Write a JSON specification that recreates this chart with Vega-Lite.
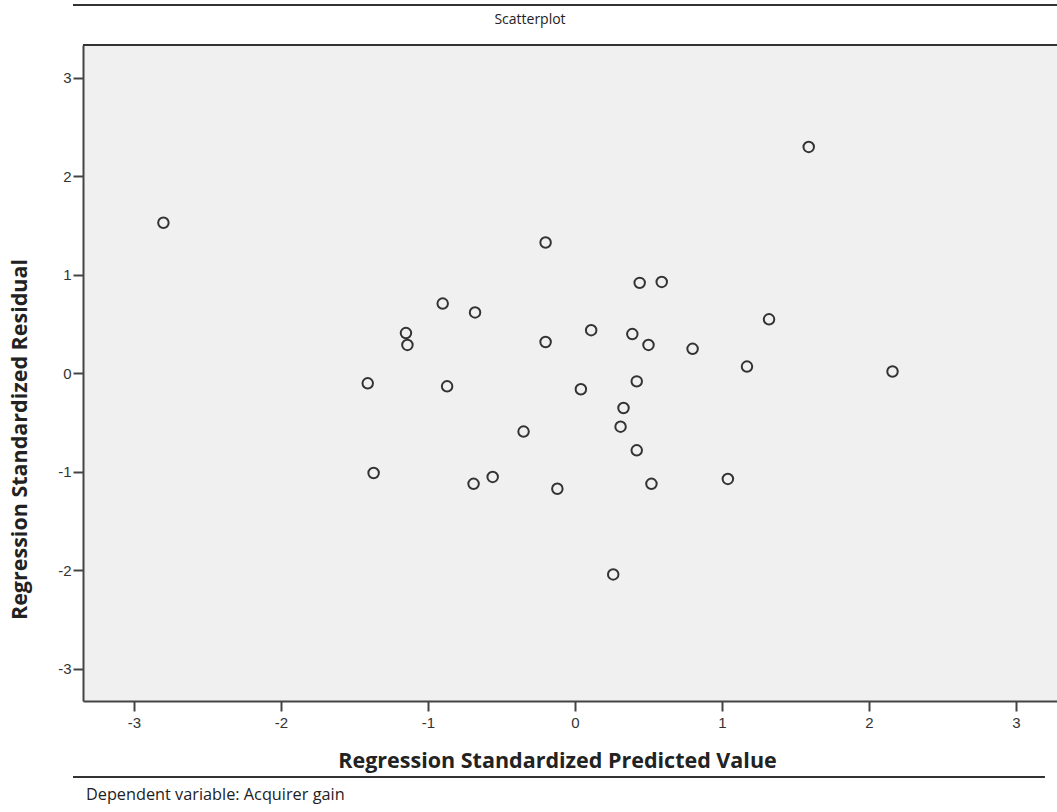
{
  "$schema": "https://vega.github.io/schema/vega-lite/v6.json",
  "autosize": {"type": "none"},
  "width": 974,
  "height": 656,
  "padding": {"left": 83, "top": 45, "right": 0, "bottom": 111},
  "background": "white",
  "title": {"text": "Scatterplot", "font": "Open Sans", "fontSize": 14, "fontWeight": "normal", "color": "#222222", "anchor": "middle", "dx": -40, "offset": -37, "baseline": "bottom"},
  "config": {
    "view": {"stroke": null, "fill": "#f0f0f0"},
    "axis": {
      "domainColor": "#444444", "domainWidth": 2, "tickColor": "#444444", "tickWidth": 2, "tickSize": 10,
      "grid": false, "labelFont": "Liberation Sans", "labelFontSize": 15, "labelColor": "#333333",
      "titleFont": "Open Sans", "titleFontSize": 21.5, "titleFontWeight": "bold", "titleColor": "#222222"
    }
  },
  "datasets": {
    "points": [
      {"pred": -2.80, "resid": 1.53},
      {"pred": 1.59, "resid": 2.30},
      {"pred": -0.20, "resid": 1.33},
      {"pred": -0.90, "resid": 0.71},
      {"pred": -0.68, "resid": 0.62},
      {"pred": -1.15, "resid": 0.41},
      {"pred": -1.14, "resid": 0.29},
      {"pred": -0.20, "resid": 0.32},
      {"pred": 0.11, "resid": 0.44},
      {"pred": -1.41, "resid": -0.10},
      {"pred": -0.87, "resid": -0.13},
      {"pred": 0.04, "resid": -0.16},
      {"pred": 0.44, "resid": 0.92},
      {"pred": 0.59, "resid": 0.93},
      {"pred": 1.32, "resid": 0.55},
      {"pred": 0.39, "resid": 0.40},
      {"pred": 0.50, "resid": 0.29},
      {"pred": 0.80, "resid": 0.25},
      {"pred": 1.17, "resid": 0.07},
      {"pred": 2.16, "resid": 0.02},
      {"pred": 0.42, "resid": -0.08},
      {"pred": 0.33, "resid": -0.35},
      {"pred": 0.31, "resid": -0.54},
      {"pred": -0.35, "resid": -0.59},
      {"pred": 0.42, "resid": -0.78},
      {"pred": -1.37, "resid": -1.01},
      {"pred": -0.56, "resid": -1.05},
      {"pred": -0.69, "resid": -1.12},
      {"pred": -0.12, "resid": -1.17},
      {"pred": 0.52, "resid": -1.12},
      {"pred": 1.04, "resid": -1.07},
      {"pred": 0.26, "resid": -2.04}
    ],
    "frame": [
      {"x": -3.415, "x2": 3.4, "y": 3.741},
      {"x": -3.347, "x2": 3.4, "y": 3.335},
      {"x": -3.415, "x2": 3.197, "y": -4.096}
    ],
    "notes": [
      {"x": -3.327, "y": -4.28, "text": "Dependent variable: Acquirer gain"}
    ]
  },
  "layer": [
    {
      "data": {"name": "frame"},
      "mark": {"type": "rule", "color": "#333333", "strokeWidth": 2, "clip": false},
      "encoding": {
        "x": {"field": "x", "type": "quantitative"},
        "x2": {"field": "x2"},
        "y": {"field": "y", "type": "quantitative"}
      }
    },
    {
      "data": {"name": "notes"},
      "mark": {"type": "text", "align": "left", "baseline": "middle", "font": "Open Sans", "fontSize": 16.3, "color": "#222222", "clip": false},
      "encoding": {
        "x": {"field": "x", "type": "quantitative"},
        "y": {"field": "y", "type": "quantitative"},
        "text": {"field": "text"}
      }
    },
    {
      "data": {"name": "points"},
      "mark": {"type": "point", "shape": "circle", "filled": false, "stroke": "#333333", "strokeWidth": 2, "size": 110, "opacity": 1},
      "encoding": {
        "x": {
          "field": "pred", "type": "quantitative",
          "scale": {"domain": [-3.347, 3.279], "nice": false, "zero": false},
          "axis": {
            "title": "Regression Standardized Predicted Value", "values": [-3, -2, -1, 0, 1, 2, 3],
            "labelExpr": "datum.value < 0 ? '-' + abs(datum.value) : '' + datum.value",
            "labelPadding": 4, "titleX": 474, "titleY": 60, "titleAlign": "center", "titleBaseline": "middle"
          }
        },
        "y": {
          "field": "resid", "type": "quantitative",
          "scale": {"domain": [-3.325, 3.335], "nice": false, "zero": false},
          "axis": {
            "title": "Regression Standardized Residual", "values": [-3, -2, -1, 0, 1, 2, 3],
            "labelExpr": "datum.value < 0 ? '-' + abs(datum.value) : '' + datum.value",
            "labelPadding": 2, "titleX": -63, "titleY": 394, "titleAngle": 270, "titleAlign": "center", "titleBaseline": "middle"
          }
        }
      }
    }
  ]
}
